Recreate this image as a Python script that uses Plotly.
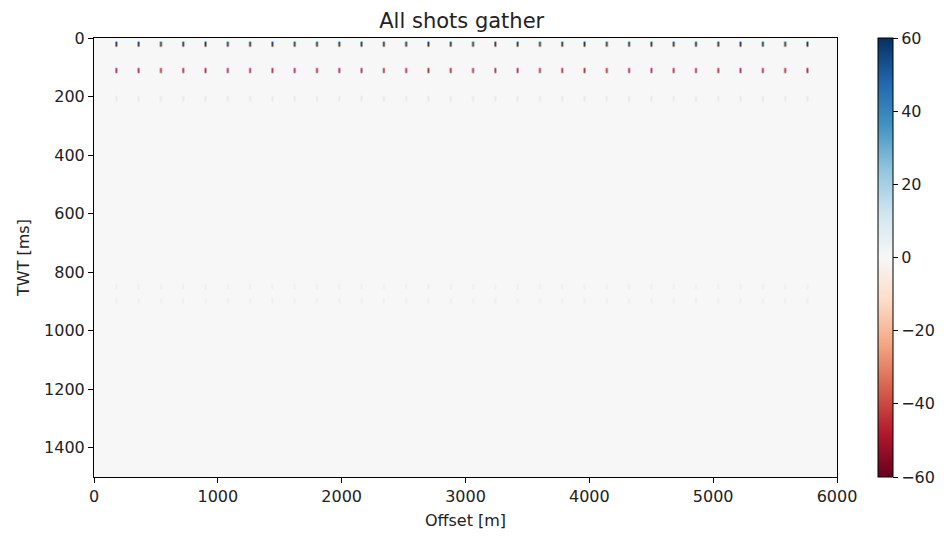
import numpy as np
import plotly.graph_objects as go

# ---- data ----
shot_offsets = [180, 360, 540, 720, 900, 1080, 1260, 1440, 1620, 1800, 1980, 2160,
                2340, 2520, 2700, 2880, 3060, 3240, 3420, 3600, 3780, 3960, 4140, 4320,
                4500, 4680, 4860, 5040, 5220, 5400, 5580, 5760]
event_times = [20, 110, 206, 848, 898]          # ms
event_amplitudes = [55, -45, -8, 4, 4]
wavelet = [-0.5, 1.0, -1.0, 1.0, -1.0, 1.0, -0.5]   # samples every 3 ms
offset_axis_max = 6000
twt_axis_max = 1500
dx = 15
dt = 3
colorbar_ticks = [-60, -40, -20, 0, 20, 40, 60]

# ---- build gather matrix ----
x = np.arange(0, offset_axis_max + dx, dx)
t = np.arange(0, twt_axis_max + dt, dt)
z = np.zeros((len(t), len(x)))
half = len(wavelet) // 2
for off in shot_offsets:
    ix = int(round(off / dx))
    for et, amp in zip(event_times, event_amplitudes):
        it = int(round(et / dt))
        for k, w in enumerate(wavelet):
            j = it + k - half
            if 0 <= j < len(t):
                z[j, ix] = amp * w

rdbu = ["#67001f", "#b2182b", "#d6604d", "#f4a582", "#fddbc7", "#f7f7f7",
        "#d1e5f0", "#92c5de", "#4393c3", "#2166ac", "#053061"]
colorscale = [[i / (len(rdbu) - 1), c] for i, c in enumerate(rdbu)]

font_col = "#222"
fig = go.Figure(go.Heatmap(
    x=x, y=t, z=z,
    zmin=-60, zmax=60,
    colorscale=colorscale,
    zsmooth="fast",
    colorbar=dict(
        x=1.055, xanchor="left", xpad=0, y=0.5, yanchor="middle", ypad=0,
        len=1.0, lenmode="fraction", thickness=15,
        outlinecolor="black", outlinewidth=1,
        tickvals=colorbar_ticks,
        ticktext=[str(v).replace("-", "\u2212") for v in colorbar_ticks],
        ticks="outside", ticklen=5, tickcolor="black",
        tickfont=dict(family="DejaVu Sans", size=16, color=font_col),
    ),
))

axis_common = dict(
    showgrid=False, zeroline=False,
    showline=True, linecolor="black", linewidth=1, mirror=True,
    ticks="outside", ticklen=5, tickcolor="black",
    tickfont=dict(family="DejaVu Sans", size=16, color=font_col),
)
fig.update_xaxes(range=[0, offset_axis_max], tickvals=[0, 1000, 2000, 3000, 4000, 5000, 6000],
                 title=dict(text="Offset [m]", font=dict(family="DejaVu Sans", size=16, color=font_col), standoff=9),
                 **axis_common)
fig.update_yaxes(range=[twt_axis_max, 0], tickvals=[0, 200, 400, 600, 800, 1000, 1200, 1400],
                 title=dict(text="TWT [ms]", font=dict(family="DejaVu Sans", size=16, color=font_col), standoff=10),
                 **axis_common)

fig.update_layout(
    width=952, height=536,
    margin=dict(l=94, r=115, t=38, b=59, autoexpand=False),
    paper_bgcolor="white", plot_bgcolor="#f7f7f7",
    title=dict(text="All shots gather", x=0.485, xanchor="center", y=0.962, yanchor="middle",
               font=dict(family="DejaVu Sans", size=21, color=font_col)),
)

fig.write_html("out.html", config={"displayModeBar": False},
               post_script="document.body.style.margin='0';")
